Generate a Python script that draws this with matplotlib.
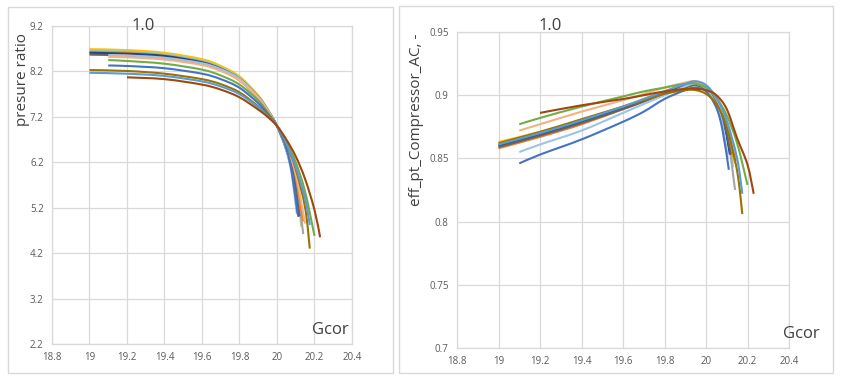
import matplotlib
matplotlib.use("Agg")
import matplotlib.pyplot as plt
from matplotlib.patches import Rectangle, PathPatch
from matplotlib.path import Path

plt.rcParams['font.family'] = ['Open Sans', 'DejaVu Sans']

# Excel-like series colours
colors = ['#FFC000', '#A9D18E', '#A5A5A5', '#ED7D31', '#264478', '#636363',
          '#9DC3E6', '#F4B183', '#70AD47', '#4472C4', '#997300', '#5B9BD5', '#9E480E']

# Gcor points per series
gcor = [
    [19.0, 19.2, 19.4, 19.6, 19.7, 19.8, 19.9, 19.95, 20.0, 20.05, 20.1, 20.13],
    [19.0, 19.2, 19.4, 19.6, 19.7, 19.8, 19.9, 19.95, 20.0, 20.05, 20.1, 20.13],
    [19.0, 19.2, 19.4, 19.6, 19.7, 19.8, 19.9, 19.95, 20.0, 20.05, 20.1, 20.14],
    [19.0, 19.2, 19.4, 19.6, 19.7, 19.8, 19.9, 19.95, 20.0, 20.05, 20.1, 20.14],
    [19.0, 19.2, 19.4, 19.6, 19.7, 19.8, 19.9, 19.95, 20.0, 20.05, 20.09, 20.115],
    [19.0, 19.2, 19.4, 19.6, 19.7, 19.8, 19.9, 19.95, 20.0, 20.05, 20.09, 20.12],
    [19.1, 19.2, 19.4, 19.6, 19.7, 19.8, 19.9, 19.95, 20.0, 20.05, 20.08, 20.105],
    [19.1, 19.2, 19.4, 19.6, 19.7, 19.8, 19.9, 19.95, 20.0, 20.05, 20.1, 20.15],
    [19.1, 19.2, 19.4, 19.6, 19.7, 19.8, 19.9, 19.95, 20.0, 20.05, 20.1, 20.15, 20.2],
    [19.1, 19.2, 19.4, 19.6, 19.7, 19.8, 19.9, 19.95, 20.0, 20.05, 20.08, 20.11],
    [19.0, 19.2, 19.4, 19.6, 19.7, 19.8, 19.9, 19.95, 20.0, 20.05, 20.1, 20.15, 20.175],
    [19.0, 19.2, 19.4, 19.6, 19.7, 19.8, 19.9, 19.95, 20.0, 20.05, 20.1, 20.15, 20.175],
    [19.2, 19.4, 19.6, 19.7, 19.8, 19.9, 19.95, 20.0, 20.05, 20.1, 20.15, 20.2, 20.23],
]

# pressure ratio
pr = [
    [8.69, 8.67, 8.61, 8.47, 8.32, 8.09, 7.67, 7.37, 7.0, 6.48, 5.75, 4.95],
    [8.66, 8.64, 8.58, 8.44, 8.29, 8.06, 7.65, 7.36, 7.0, 6.5, 5.8, 4.78],
    [8.64, 8.62, 8.56, 8.42, 8.27, 8.04, 7.64, 7.35, 7.0, 6.5, 5.85, 4.62],
    [8.62, 8.60, 8.53, 8.38, 8.23, 8.0, 7.61, 7.33, 7.0, 6.52, 5.9, 4.9],
    [8.61, 8.59, 8.54, 8.40, 8.26, 8.04, 7.64, 7.35, 7.0, 6.47, 5.8, 5.0],
    [8.57, 8.55, 8.5, 8.37, 8.23, 8.02, 7.63, 7.34, 7.0, 6.48, 5.85, 5.02],
    [8.56, 8.55, 8.5, 8.38, 8.25, 8.04, 7.64, 7.35, 7.0, 6.45, 5.9, 5.08],
    [8.52, 8.51, 8.46, 8.34, 8.21, 8.0, 7.62, 7.34, 7.0, 6.55, 5.95, 4.85],
    [8.45, 8.43, 8.37, 8.24, 8.11, 7.91, 7.56, 7.3, 7.0, 6.65, 6.2, 5.55, 4.58],
    [8.33, 8.32, 8.27, 8.15, 8.03, 7.84, 7.5, 7.27, 7.0, 6.5, 5.95, 5.05],
    [8.23, 8.21, 8.15, 8.03, 7.92, 7.74, 7.43, 7.24, 7.0, 6.6, 6.05, 5.2, 4.3],
    [8.17, 8.15, 8.1, 7.98, 7.87, 7.7, 7.41, 7.22, 7.0, 6.62, 6.1, 5.4, 4.82],
    [8.07, 8.03, 7.91, 7.8, 7.63, 7.36, 7.2, 7.0, 6.7, 6.33, 5.83, 5.15, 4.55],
]

# efficiency
eff = [
    [0.863, 0.871, 0.880, 0.891, 0.897, 0.903, 0.908, 0.909, 0.906, 0.896, 0.874, 0.850],
    [0.861, 0.870, 0.879, 0.890, 0.896, 0.902, 0.908, 0.909, 0.906, 0.896, 0.873, 0.843],
    [0.860, 0.869, 0.879, 0.890, 0.896, 0.902, 0.907, 0.908, 0.905, 0.895, 0.872, 0.825],
    [0.858, 0.867, 0.877, 0.889, 0.895, 0.902, 0.908, 0.910, 0.907, 0.897, 0.876, 0.846],
    [0.860, 0.869, 0.879, 0.890, 0.896, 0.902, 0.907, 0.908, 0.905, 0.894, 0.875, 0.853],
    [0.859, 0.868, 0.878, 0.889, 0.895, 0.901, 0.906, 0.908, 0.905, 0.894, 0.876, 0.853],
    [0.855, 0.861, 0.872, 0.886, 0.893, 0.900, 0.907, 0.909, 0.905, 0.892, 0.876, 0.850],
    [0.872, 0.877, 0.887, 0.896, 0.901, 0.906, 0.910, 0.911, 0.907, 0.897, 0.878, 0.848],
    [0.877, 0.882, 0.891, 0.899, 0.903, 0.906, 0.909, 0.909, 0.906, 0.898, 0.884, 0.862, 0.829],
    [0.846, 0.853, 0.865, 0.879, 0.887, 0.897, 0.904, 0.906, 0.903, 0.890, 0.872, 0.841],
    [0.862, 0.871, 0.881, 0.891, 0.896, 0.901, 0.904, 0.904, 0.901, 0.893, 0.875, 0.840, 0.806],
    [0.861, 0.870, 0.880, 0.891, 0.897, 0.903, 0.909, 0.911, 0.908, 0.898, 0.880, 0.850, 0.822],
    [0.886, 0.892, 0.897, 0.900, 0.903, 0.905, 0.905, 0.904, 0.900, 0.889, 0.866, 0.845, 0.822],
]

xticks = [18.8, 19, 19.2, 19.4, 19.6, 19.8, 20, 20.2, 20.4]
xticklabels = ['18.8', '19', '19.2', '19.4', '19.6', '19.8', '20', '20.2', '20.4']
pr_ticks = [2.2, 3.2, 4.2, 5.2, 6.2, 7.2, 8.2, 9.2]
eff_ticks = [0.7, 0.75, 0.8, 0.85, 0.9, 0.95]
eff_ticklabels = ['0.7', '0.75', '0.8', '0.85', '0.9', '0.95']

W, H = 844, 382
fig = plt.figure(figsize=(W / 100, H / 100), dpi=100)

def fx(px):
    return px / W

def fy(py):
    return 1 - py / H

# panel frames
for (x0, y0, x1, y1) in [(8, 7, 393, 373), (399, 6, 833, 373)]:
    fig.patches.append(Rectangle((fx(x0), fy(y1)), fx(x1 - x0), (y1 - y0) / H,
                                 transform=fig.transFigure, fill=False,
                                 edgecolor='#D9D9D9', lw=1))

ax1 = fig.add_axes([fx(52), fy(344), fx(352 - 52), (344 - 26) / H])
ax2 = fig.add_axes([fx(457), fy(348), fx(789 - 457), (348 - 32) / H])

def smooth_line(ax, xs, ys, color):
    # Excel-style smoothed line: cubic Bezier through the points
    n = len(xs)
    verts = [(xs[0], ys[0])]
    codes = [Path.MOVETO]
    for i in range(n - 1):
        xp, yp = (xs[i - 1], ys[i - 1]) if i > 0 else (xs[i], ys[i])
        xn, yn = (xs[i + 2], ys[i + 2]) if i + 2 < n else (xs[i + 1], ys[i + 1])
        c1 = (xs[i] + (xs[i + 1] - xp) / 6, ys[i] + (ys[i + 1] - yp) / 6)
        c2 = (xs[i + 1] - (xn - xs[i]) / 6, ys[i + 1] - (yn - ys[i]) / 6)
        verts += [c1, c2, (xs[i + 1], ys[i + 1])]
        codes += [Path.CURVE4] * 3
    ax.add_patch(PathPatch(Path(verts, codes), fill=False, edgecolor=color,
                           lw=1.5, capstyle='butt', joinstyle='round'))

def style(ax):
    ax.grid(True, color='#D9D9D9', lw=0.9)
    ax.set_axisbelow(True)
    for s in ax.spines.values():
        s.set_color('#D9D9D9')
        s.set_linewidth(0.9)
    ax.tick_params(length=0, labelsize=7, labelcolor='#595959', pad=6)
    ax.set_xlim(18.8, 20.4)
    ax.set_xticks(xticks)
    ax.set_xticklabels(xticklabels)

for i in range(len(gcor)):
    smooth_line(ax1, gcor[i], pr[i], colors[i])
    smooth_line(ax2, gcor[i], eff[i], colors[i])

style(ax1)
ax1.set_ylim(2.2, 9.2)
ax1.set_yticks(pr_ticks)
ax1.set_yticklabels([str(t) for t in pr_ticks])

style(ax2)
ax2.set_ylim(0.7, 0.95)
ax2.set_yticks(eff_ticks)
ax2.set_yticklabels(eff_ticklabels)

# titles and labels
fig.text(fx(143), fy(26), '1.0', fontsize=12, color='#404040', ha='center', va='center')
fig.text(fx(550), fy(26), '1.0', fontsize=12, color='#404040', ha='center', va='center')
fig.text(fx(23), fy(80), 'presure ratio', fontsize=11, rotation=90,
         color='#404040', ha='center', va='center')
fig.text(fx(417), fy(120), 'eff_pt_Compressor_AC, -', fontsize=11, rotation=90,
         color='#404040', ha='center', va='center')
fig.text(fx(330), fy(330), 'Gcor', fontsize=12, color='#404040', ha='center', va='center')
fig.text(fx(801), fy(334), 'Gcor', fontsize=12, color='#404040', ha='center', va='center')

fig.savefig('out.png', dpi=100)
